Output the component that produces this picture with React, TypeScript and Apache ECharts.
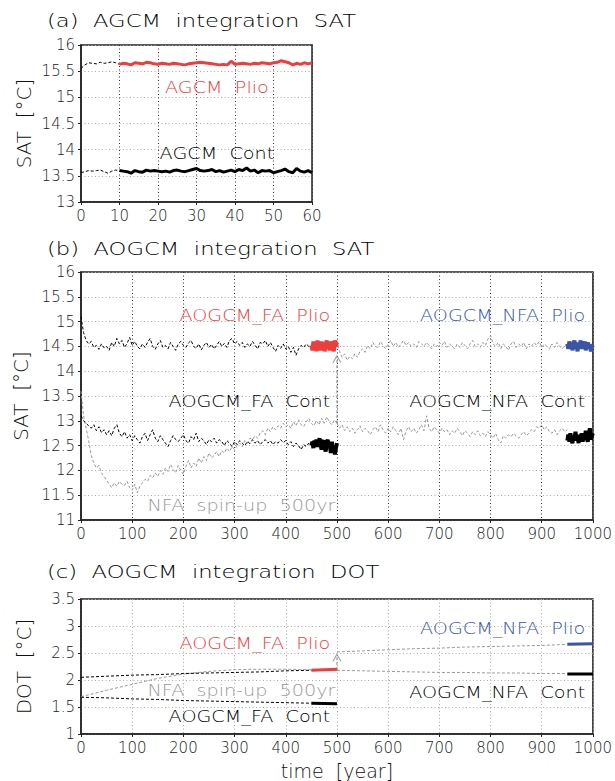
import React, { useEffect, useRef } from "react";
import * as echarts from "echarts";

// ---------- Panel (a): AGCM, yearly ----------
const aPlioSpin = [15.55, 15.62, 15.66, 15.65, 15.64, 15.67, 15.65, 15.66, 15.68, 15.66, 15.63]; // yr 0..10
const aPlioRun = [15.63, 15.65, 15.64, 15.62, 15.66, 15.65, 15.64, 15.67, 15.66, 15.64, 15.63, 15.65, 15.64, 15.63, 15.65, 15.64, 15.63, 15.62, 15.64, 15.65, 15.66, 15.67, 15.66, 15.65, 15.64, 15.63, 15.62, 15.63, 15.62, 15.69, 15.63, 15.64, 15.65, 15.64, 15.63, 15.65, 15.64, 15.66, 15.65, 15.64, 15.66, 15.67, 15.70, 15.68, 15.66, 15.62, 15.65, 15.63, 15.66, 15.64, 15.66]; // yr 10..60
const aContSpin = [13.56, 13.58, 13.6, 13.59, 13.6, 13.61, 13.58, 13.55, 13.59, 13.61, 13.6];
const aContRun = [13.6, 13.59, 13.58, 13.55, 13.6, 13.58, 13.57, 13.61, 13.59, 13.6, 13.59, 13.58, 13.59, 13.57, 13.6, 13.61, 13.59, 13.58, 13.6, 13.62, 13.64, 13.6, 13.59, 13.6, 13.62, 13.58, 13.6, 13.57, 13.59, 13.61, 13.58, 13.62, 13.6, 13.65, 13.59, 13.61, 13.56, 13.6, 13.59, 13.6, 13.56, 13.58, 13.6, 13.63, 13.58, 13.56, 13.64, 13.59, 13.57, 13.6, 13.56];

// ---------- Panel (b): AOGCM SAT ----------
// thin lines: step 5 yr ; thick segments: step 2 yr
const bFaPlioSpin = [15.10, 14.78, 14.62, 14.55, 14.60, 14.48, 14.52, 14.44, 14.55, 14.47, 14.50, 14.42, 14.58, 14.50, 14.66, 14.55, 14.62, 14.48, 14.56, 14.68, 14.52, 14.60, 14.50, 14.45, 14.55, 14.48, 14.58, 14.66, 14.50, 14.44, 14.55, 14.62, 14.48, 14.52, 14.45, 14.58, 14.50, 14.42, 14.55, 14.60, 14.52, 14.48, 14.57, 14.62, 14.50, 14.46, 14.55, 14.43, 14.52, 14.58, 14.48, 14.54, 14.45, 14.52, 14.60, 14.50, 14.56, 14.48, 14.62, 14.66, 14.55, 14.60, 14.52, 14.58, 14.48, 14.55, 14.50, 14.60, 14.52, 14.45, 14.58, 14.55, 14.62, 14.50, 14.58, 14.48, 14.40, 14.52, 14.46, 14.55, 14.45, 14.50, 14.38, 14.48, 14.32, 14.45, 14.52, 14.48, 14.55, 14.50, 14.52]; // 0..450
const bFaPlioRun = [14.52, 14.42, 14.60, 14.45, 14.58, 14.40, 14.62, 14.48, 14.55, 14.42, 14.60, 14.46, 14.58, 14.40, 14.52, 14.62, 14.45, 14.56, 14.42, 14.60, 14.48, 14.55, 14.40, 14.62, 14.50, 14.58]; // 450..500
const bFaContSpin = [13.10, 13.00, 12.95, 12.90, 12.85, 12.92, 12.80, 12.88, 12.76, 12.82, 12.72, 12.80, 12.70, 12.85, 12.92, 12.75, 12.68, 12.78, 12.65, 12.72, 12.60, 12.70, 12.62, 12.55, 12.68, 12.75, 12.60, 12.72, 12.82, 12.65, 12.58, 12.70, 12.62, 12.55, 12.48, 12.60, 12.70, 12.62, 12.58, 12.65, 12.72, 12.60, 12.55, 12.68, 12.62, 12.75, 12.58, 12.65, 12.60, 12.52, 12.62, 12.58, 12.65, 12.55, 12.62, 12.58, 12.50, 12.60, 12.55, 12.48, 12.58, 12.52, 12.60, 12.55, 12.50, 12.58, 12.54, 12.62, 12.55, 12.60, 12.52, 12.58, 12.62, 12.55, 12.60, 12.52, 12.58, 12.55, 12.62, 12.56, 12.60, 12.52, 12.58, 12.48, 12.55, 12.50, 12.42, 12.52, 12.48, 12.55, 12.50]; // 0..450
const bFaContRun = [12.50, 12.58, 12.45, 12.60, 12.52, 12.62, 12.48, 12.55, 12.65, 12.50, 12.42, 12.58, 12.60, 12.48, 12.38, 12.55, 12.62, 12.45, 12.52, 12.35, 12.58, 12.42, 12.50, 12.32, 12.45, 12.55]; // 450..500
const bNfaSpin = [13.60, 13.10, 12.85, 12.60, 12.30, 12.15, 12.05, 12.10, 11.95, 11.88, 11.80, 11.72, 11.65, 11.75, 11.68, 11.78, 11.72, 11.70, 11.78, 11.65, 11.60, 11.72, 11.55, 11.68, 11.75, 11.82, 11.78, 11.90, 11.85, 11.95, 11.88, 12.00, 11.92, 12.05, 11.98, 12.12, 12.02, 11.95, 12.10, 12.00, 11.92, 12.08, 12.20, 12.05, 12.15, 12.08, 12.25, 12.15, 12.28, 12.20, 12.35, 12.25, 12.30, 12.38, 12.28, 12.40, 12.35, 12.45, 12.38, 12.48, 12.42, 12.50, 12.55, 12.48, 12.60, 12.55, 12.65, 12.62, 12.70, 12.65, 12.75, 12.80, 12.72, 12.85, 12.78, 12.88, 12.82, 12.90, 12.85, 12.95, 12.88, 12.92, 12.85, 12.98, 12.90, 13.02, 12.92, 12.88, 12.98, 13.05, 12.95, 12.90, 13.00, 12.92, 13.05, 12.95, 13.08, 12.98, 12.92, 13.02, 12.95]; // 0..500
const bNfaContSpin = [12.95, 12.85, 12.92, 12.80, 12.88, 12.78, 12.85, 12.75, 12.82, 12.90, 12.78, 12.85, 12.80, 12.72, 12.82, 12.88, 12.78, 12.92, 12.82, 12.75, 12.85, 12.78, 12.88, 12.80, 12.72, 12.85, 12.62, 12.80, 12.88, 12.78, 12.85, 12.75, 12.82, 12.92, 12.80, 13.10, 12.85, 12.78, 12.88, 12.82, 12.75, 12.85, 12.78, 12.82, 12.72, 12.80, 12.75, 12.85, 12.78, 12.70, 12.80, 12.75, 12.68, 12.78, 12.72, 12.80, 12.70, 12.75, 12.68, 12.78, 12.72, 12.65, 12.75, 12.62, 12.55, 12.70, 12.65, 12.72, 12.68, 12.75, 12.70, 12.65, 12.72, 12.78, 12.70, 12.75, 12.82, 12.78, 12.88, 12.85, 12.92, 12.82, 12.88, 12.78, 12.75, 12.82, 12.72, 12.80, 12.85, 12.78, 12.82]; // 500..950
const bNfaContRun = [12.60, 12.72, 12.58, 12.75, 12.62, 12.55, 12.70, 12.65, 12.78, 12.60, 12.68, 12.55, 12.72, 12.62, 12.75, 12.58, 12.70, 12.62, 12.80, 12.65, 12.58, 12.72, 12.85, 12.62, 12.70, 12.75]; // 950..1000
const bNfaPlioSpin = [14.62, 14.40, 14.28, 14.35, 14.22, 14.30, 14.25, 14.35, 14.28, 14.40, 14.45, 14.38, 14.52, 14.45, 14.58, 14.50, 14.48, 14.60, 14.52, 14.45, 14.55, 14.62, 14.50, 14.58, 14.48, 14.55, 14.62, 14.52, 14.58, 14.50, 14.55, 14.48, 14.60, 14.55, 14.50, 14.58, 14.52, 14.45, 14.55, 14.50, 14.58, 14.52, 14.60, 14.48, 14.55, 14.50, 14.45, 14.55, 14.48, 14.58, 14.52, 14.45, 14.55, 14.62, 14.50, 14.55, 14.48, 14.58, 14.52, 14.65, 14.72, 14.55, 14.50, 14.58, 14.45, 14.55, 14.50, 14.42, 14.55, 14.60, 14.48, 14.55, 14.50, 14.58, 14.45, 14.55, 14.50, 14.58, 14.52, 14.60, 14.48, 14.55, 14.50, 14.45, 14.55, 14.48, 14.58, 14.50, 14.45, 14.52, 14.55]; // 500..950
const bNfaPlioRun = [14.55, 14.45, 14.60, 14.48, 14.58, 14.42, 14.55, 14.62, 14.45, 14.52, 14.40, 14.58, 14.50, 14.62, 14.45, 14.55, 14.48, 14.60, 14.42, 14.52, 14.58, 14.45, 14.55, 14.40, 14.52, 14.48]; // 950..1000
const bArrow = [12.95, 14.28];

// ---------- Panel (c): AOGCM DOT (step 50 yr) ----------
const cFaPlioSpin = [2.05, 2.07, 2.09, 2.10, 2.12, 2.13, 2.14, 2.15, 2.17, 2.18]; // 0..450
const cFaPlioRun = [2.18, 2.19, 2.2]; // 450..500 step 25
const cFaContSpin = [1.68, 1.67, 1.65, 1.64, 1.62, 1.61, 1.60, 1.59, 1.58, 1.57];
const cFaContRun = [1.57, 1.565, 1.56];
const cNfaSpin = [1.69, 1.81, 1.92, 2.03, 2.11, 2.16, 2.19, 2.20, 2.20, 2.19, 2.18]; // 0..500
const cNfaContSpin = [2.18, 2.17, 2.16, 2.15, 2.14, 2.14, 2.13, 2.13, 2.12, 2.12]; // 500..950
const cNfaContRun = [2.11, 2.11, 2.11];
const cNfaPlioSpin = [2.52, 2.54, 2.56, 2.58, 2.59, 2.61, 2.62, 2.63, 2.64, 2.66]; // 500..950
const cNfaPlioRun = [2.66, 2.665, 2.67];
const cArrow = [2.18, 2.45];

const RED = "#ee3d3d";
const BLUE = "#3a55a8";
const GRAY = "#999999";

const TITLES = ["(a)  AGCM  integration  SAT", "(b)  AOGCM  integration  SAT", "(c)  AOGCM  integration  DOT"];

// annotations [x, y, text, color, align]
const aNotes: [number, number, string, string, string][] = [
  [35.3, 15.18, "AGCM  Plio", RED, "center"],
  [35.3, 13.93, "AGCM  Cont", "#000", "center"],
];
const bNotes: [number, number, string, string, string][] = [
  [487, 15.12, "AOGCM_FA  Plio", RED, "right"],
  [985, 15.12, "AOGCM_NFA  Plio", BLUE, "right"],
  [487, 13.38, "AOGCM_FA  Cont", "#000", "right"],
  [985, 13.38, "AOGCM_NFA  Cont", "#000", "right"],
  [497, 11.30, "NFA  spin-up  500yr", GRAY, "right"],
];
const cNotes: [number, number, string, string, string][] = [
  [487, 2.68, "AOGCM_FA  Plio", RED, "right"],
  [985, 2.96, "AOGCM_NFA  Plio", BLUE, "right"],
  [497, 1.80, "NFA  spin-up  500yr", GRAY, "right"],
  [487, 1.32, "AOGCM_FA  Cont", "#000", "right"],
  [985, 1.77, "AOGCM_NFA  Cont", "#000", "right"],
];

const FONT = "DejaVu Sans";
const WEIGHT = 300;

function pairs(start: number, step: number, vals: number[]) {
  return vals.map((v, i) => [start + i * step, v]);
}

function thin(idx: number, data: number[][], color: string) {
  return {
    type: "line", xAxisIndex: idx, yAxisIndex: idx, data, symbol: "none", z: 2,
    lineStyle: { color, width: 1, type: [3, 2] },
  };
}
function thick(idx: number, data: number[][], color: string, width: number) {
  return {
    type: "line", xAxisIndex: idx, yAxisIndex: idx, data, symbol: "none", z: 4,
    lineStyle: { color, width, type: "solid" },
  };
}
function arrow(idx: number, x: number, ys: number[]) {
  return [
    {
      type: "line", xAxisIndex: idx, yAxisIndex: idx, symbol: "none", z: 3,
      data: [[x, ys[0]], [x, ys[1]]],
      lineStyle: { color: "#888", width: 1, type: [3, 2] },
    },
    {
      type: "scatter", xAxisIndex: idx, yAxisIndex: idx, z: 3,
      data: [[x, ys[1]]],
      symbol: "path://M0,8 L5,0 L10,8",
      symbolSize: [8, 7],
      symbolOffset: [0, 2],
      itemStyle: { color: "none", borderColor: "#888", borderWidth: 1 },
    },
  ];
}

function xAxisCfg(idx: number, max: number, interval: number, vGridColor: string, name?: string) {
  return {
    type: "value", gridIndex: idx, min: 0, max, interval,
    name: name || "", nameLocation: "middle", nameGap: 27,
    nameTextStyle: { fontSize: 19, fontFamily: FONT, fontWeight: WEIGHT, color: "#111" },
    axisLine: { show: true, onZero: false, lineStyle: { color: "#222", width: 1.5 } },
    axisTick: { show: true, length: 3, lineStyle: { color: "#222" } },
    axisLabel: {
      fontSize: 15, fontFamily: FONT, fontWeight: WEIGHT, color: "#222", margin: 6, showMaxLabel: true, showMinLabel: true,
      formatter: (v: number) => String(v),
    },
    splitLine: { show: true, lineStyle: { color: vGridColor, type: [1, 2.5], width: 1 } },
  };
}
function yAxisCfg(idx: number, min: number, max: number, name: string) {
  return {
    type: "value", gridIndex: idx, min, max, interval: 0.5,
    name, nameLocation: "middle", nameGap: 47, nameRotate: 90,
    nameTextStyle: { fontSize: 20, fontFamily: FONT, fontWeight: WEIGHT, color: "#111" },
    axisLine: { show: true, onZero: false, lineStyle: { color: "#222", width: 1.5 } },
    axisTick: { show: true, length: 3, lineStyle: { color: "#222" } },
    axisLabel: {
      fontSize: 15, fontFamily: FONT, fontWeight: WEIGHT, color: "#222", margin: 6, showMaxLabel: true, showMinLabel: true,
      formatter: (v: number) => String(v),
    },
    splitLine: { show: true, lineStyle: { color: "#aaaaaa", type: [1, 2.5], width: 1 } },
  };
}

export default function App() {
  const ref = useRef<HTMLDivElement>(null);
  useEffect(() => {
    if (!ref.current) return;
    const chart = echarts.init(ref.current, undefined, { renderer: "svg" });
    const option: any = {
      animation: false,
      backgroundColor: "#fff",
      grid: [
        { left: 81, top: 45, width: 231, height: 157, show: true, borderColor: "#222", borderWidth: 1.5, containLabel: false },
        { left: 81, top: 272, width: 512, height: 248, show: true, borderColor: "#222", borderWidth: 1.5, containLabel: false },
        { left: 81, top: 599, width: 512, height: 135, show: true, borderColor: "#222", borderWidth: 1.5, containLabel: false },
      ],
      xAxis: [
        xAxisCfg(0, 60, 10, "#333"),
        xAxisCfg(1, 1000, 100, "#333"),
        xAxisCfg(2, 1000, 100, "#aaaaaa", "time  [year]"),
      ],
      yAxis: [
        yAxisCfg(0, 13, 16, "SAT  [°C]"),
        yAxisCfg(1, 11, 16, "SAT  [°C]"),
        yAxisCfg(2, 1, 3.5, "DOT  [°C]"),
      ],
      series: [
        // (a)
        thin(0, pairs(0, 1, aPlioSpin), "#000"),
        thin(0, pairs(0, 1, aContSpin), "#000"),
        thick(0, pairs(10, 1, aPlioRun), RED, 3),
        thick(0, pairs(10, 1, aContRun), "#000", 3),
        // (b)
        thin(1, pairs(0, 5, bNfaSpin), GRAY),
        thin(1, pairs(500, 5, bNfaContSpin), GRAY),
        thin(1, pairs(500, 5, bNfaPlioSpin), GRAY),
        thin(1, pairs(0, 5, bFaPlioSpin), "#000"),
        thin(1, pairs(0, 5, bFaContSpin), "#000"),
        thick(1, pairs(450, 2, bFaPlioRun), RED, 4),
        thick(1, pairs(450, 2, bFaContRun), "#000", 4),
        thick(1, pairs(950, 2, bNfaPlioRun), BLUE, 4),
        thick(1, pairs(950, 2, bNfaContRun), "#000", 4),
        ...arrow(1, 500, bArrow),
        // (c)
        thin(2, pairs(0, 50, cNfaSpin), GRAY),
        thin(2, pairs(500, 50, cNfaContSpin), GRAY),
        thin(2, pairs(500, 50, cNfaPlioSpin), GRAY),
        thin(2, pairs(0, 50, cFaPlioSpin), "#000"),
        thin(2, pairs(0, 50, cFaContSpin), "#000"),
        thick(2, pairs(450, 25, cFaPlioRun), RED, 3),
        thick(2, pairs(450, 25, cFaContRun), "#000", 3),
        thick(2, pairs(950, 25, cNfaPlioRun), BLUE, 3),
        thick(2, pairs(950, 25, cNfaContRun), "#000", 3),
        ...arrow(2, 500, cArrow),
      ],
    };
    chart.setOption(option);

    // titles (stretched horizontally like the original's wide plotting font)
    const titleY = [21, 249, 572];
    const graphics: any[] = TITLES.map((t, i) => ({
      type: "text", x: 47, y: titleY[i], scaleX: 1.26, z: 10,
      style: { text: t, fill: "#000", fontSize: 18, fontWeight: WEIGHT, fontFamily: FONT, align: "left", textAlign: "left", verticalAlign: "middle", textVerticalAlign: "middle" },
    }));
    // in-plot annotations, anchored to data coordinates
    [aNotes, bNotes, cNotes].forEach((list, idx) => {
      list.forEach(([x, y, t, c, al]) => {
        const p = chart.convertToPixel({ gridIndex: idx } as any, [x, y]) as number[];
        graphics.push({
          type: "text", x: p[0], y: p[1], scaleX: 1.2, z: 10,
          style: { text: t, fill: c, fontSize: 16, fontWeight: WEIGHT, fontFamily: FONT, align: al, textAlign: al, verticalAlign: "middle", textVerticalAlign: "middle" },
        });
      });
    });
    chart.setOption({ graphic: graphics });
    return () => chart.dispose();
  }, []);
  return (
    <div
      ref={ref}
      style={{ position: "absolute", left: 0, top: 0, width: 615, height: 781, background: "#fff" }}
    />
  );
}
